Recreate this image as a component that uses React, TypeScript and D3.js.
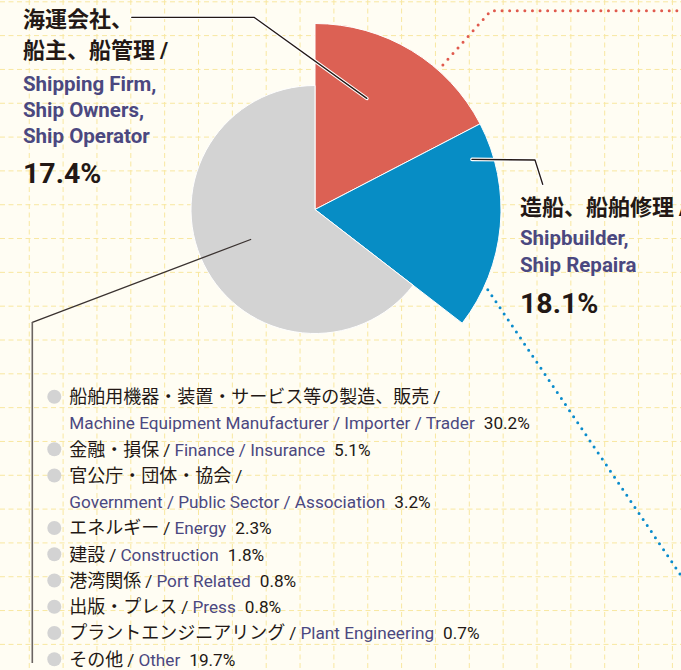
import React, { useEffect, useRef } from 'react';
import * as d3 from 'd3';

// ---- data ----
const mainValues = [17.4, 18.1];
const mainJa = [['海運会社、', '船主、船管理 /'], ['造船、船舶修理 /']];
const mainEn = [['Shipping Firm,', 'Ship Owners,', 'Ship Operator'], ['Shipbuilder,', 'Ship Repaira']];

const otherJa = ['船舶用機器・装置・サービス等の製造、販売', '金融・損保', '官公庁・団体・協会', 'エネルギー', '建設', '港湾関係', '出版・プレス', 'プラントエンジニアリング', 'その他'];
const otherEn = ['Machine Equipment Manufacturer / Importer / Trader', 'Finance / Insurance', 'Government / Public Sector / Association', 'Energy', 'Construction', 'Port Related', 'Press', 'Plant Engineering', 'Other'];
const otherValues = [30.2, 5.1, 3.2, 2.3, 1.8, 0.8, 0.8, 0.7, 19.7];

const W = 681;
const H = 670;
const JA = '"Noto Sans CJK JP", sans-serif';
const EN = 'Roboto, sans-serif';
const INK = '#231815';
const PURPLE = '#4b4880';

export default function App() {
  const ref = useRef<SVGSVGElement>(null);

  useEffect(() => {
    const svg = d3.select(ref.current);
    svg.selectAll('*').remove();

    // ------------ background + grid ------------
    svg.append('rect').attr('width', W).attr('height', H).attr('fill', '#fffdf3');
    const grid = svg.append('g')
      .attr('stroke', '#f8e7a0')
      .attr('stroke-width', 1)
      .attr('stroke-dasharray', '5 3.5');
    grid.append('g').selectAll('line')
      .data(d3.range(-4.6, W, 33.85))
      .join('line')
      .attr('x1', d => d).attr('x2', d => d).attr('y1', 0).attr('y2', H);
    grid.append('g').selectAll('line')
      .data(d3.range(1.8, H, 33.82))
      .join('line')
      .attr('y1', d => d).attr('y2', d => d).attr('x1', 0).attr('x2', W);

    // ------------ pie ------------
    const cx = 315, cy = 209.5;
    const pieData = [...mainValues, d3.sum(otherValues)];
    const colors = ['#dc6154', '#078dc5', '#d3d3d3'];
    const radii = [186, 186, 124];
    const arcs = d3.pie<number>().sort(null)(pieData);
    const arc = d3.arc<d3.PieArcDatum<number>>().innerRadius(0);
    const deg = (a: number) => (a * Math.PI) / 180;
    const at = (a: number, r: number) => {
      const p = d3.pointRadial(deg(a), r);
      return [cx + p[0], cy + p[1]] as [number, number];
    };

    // dotted lines to the detail charts
    const redStart = at(41.5, 193);
    const redTurnR = (cy - 10.7) / Math.cos(deg(41.5));
    const redTurn = at(41.5, redTurnR);
    svg.append('path')
      .attr('d', d3.line()([redStart, redTurn, [W + 5, redTurn[1]]]))
      .attr('fill', 'none')
      .attr('stroke', '#e05a4e')
      .attr('stroke-width', 3)
      .attr('stroke-linecap', 'round')
      .attr('stroke-dasharray', '0 7.6');
    const blueStart = at(114.9, 190.5);
    const slope = 283 / 191.3;
    svg.append('path')
      .attr('d', d3.line()([blueStart, [W + 20, blueStart[1] + (W + 20 - blueStart[0]) * slope]]))
      .attr('fill', 'none')
      .attr('stroke', '#0a8ccc')
      .attr('stroke-width', 3)
      .attr('stroke-linecap', 'round')
      .attr('stroke-dasharray', '0 7.3');

    svg.append('g')
      .attr('transform', `translate(${cx},${cy})`)
      .selectAll('path')
      .data(arcs)
      .join('path')
      .attr('d', (d, i) => arc.outerRadius(radii[i])(d))
      .attr('fill', (d, i) => colors[i])
      .attr('stroke', '#fff')
      .attr('stroke-width', 1);

    // ------------ leader lines ------------
    const leader = (pts: [number, number][], halo: boolean, color = INK) => {
      const d = d3.line()(pts);
      if (halo) {
        svg.append('path').attr('d', d).attr('fill', 'none')
          .attr('stroke', '#fff').attr('stroke-width', 3.6)
          .attr('stroke-linecap', 'round').attr('stroke-linejoin', 'round');
      }
      svg.append('path').attr('d', d).attr('fill', 'none')
        .attr('stroke', color).attr('stroke-width', 1.3)
        .attr('stroke-linecap', 'round').attr('stroke-linejoin', 'round');
    };
    leader([at(25, 122.6), [254, 17.3], [131.7, 17.3]], true);
    leader([at(72.3, 164.8), [535, 160], [542.7, 184.3]], true);
    leader([at(245, 71), [32.3, 322.3]], false, '#3a3230');
    svg.append('line')
      .attr('x1', 32.3).attr('x2', 32.3).attr('y1', 322.3).attr('y2', 663)
      .attr('stroke', '#6b6462').attr('stroke-width', 1.6);

    // ------------ slice labels ------------
    const labelPos = [
      { x: 23, ja: [26.5, 57.5], en: [90.7, 116.7, 142.7], pct: 182.7 },
      { x: 520, ja: [215.3], en: [245, 271.7], pct: 313.3 },
    ];
    mainValues.forEach((v, i) => {
      const p = labelPos[i];
      mainJa[i].forEach((t, j) => {
        const txt = svg.append('text')
          .attr('x', p.x).attr('y', p.ja[j])
          .attr('fill', INK).attr('font-weight', 700).attr('font-size', 22);
        const slash = t.endsWith(' /');
        txt.append('tspan').attr('font-family', JA).text(slash ? t.slice(0, -2) : t);
        if (slash) txt.append('tspan').attr('font-family', EN).attr('dx', 5).text('/');
      });
      mainEn[i].forEach((t, j) => {
        svg.append('text')
          .attr('x', p.x).attr('y', p.en[j])
          .attr('fill', PURPLE).attr('font-family', EN)
          .attr('font-weight', 700).attr('font-size', 20.5)
          .text(t);
      });
      svg.append('text')
        .attr('x', p.x).attr('y', p.pct)
        .attr('fill', INK).attr('font-family', EN)
        .attr('font-weight', 700).attr('font-size', 28.5)
        .text(`${v}%`);
    });

    // ------------ legend ------------
    const rowY = (k: number) => 396.7 + 26.25 * k;
    const legend = svg.append('g');
    let row = 0;
    otherJa.forEach((ja, i) => {
      const wrap = otherEn[i].length > 25;
      legend.append('circle')
        .attr('cx', 54.3).attr('cy', rowY(row)).attr('r', 7)
        .attr('fill', '#d3d3d3');
      const t1 = legend.append('text')
        .attr('x', 69.3).attr('y', rowY(row) + 6.3)
        .attr('font-size', 18).attr('fill', INK);
      t1.append('tspan').attr('font-family', JA).text(ja);
      t1.append('tspan').attr('font-family', EN).attr('font-size', 17.2).attr('dx', 4).text('/');
      let t2 = t1;
      if (wrap) {
        row += 1;
        t2 = legend.append('text')
          .attr('x', 69.3).attr('y', rowY(row) + 6.3)
          .attr('font-size', 17.2).attr('fill', INK);
        t2.append('tspan').attr('font-family', EN).attr('fill', PURPLE).text(otherEn[i]);
      } else {
        t1.append('tspan').attr('font-family', EN).attr('font-size', 17.2)
          .attr('fill', PURPLE).attr('dx', 4).text(otherEn[i]);
      }
      t2.append('tspan').attr('font-family', EN).attr('font-size', 17.2)
        .attr('dx', 9).text(`${otherValues[i]}%`);
      row += 1;
    });
  }, []);

  return (
    <svg
      ref={ref}
      width={W}
      height={H}
      style={{ position: 'absolute', left: 0, top: 0, display: 'block' }}
    />
  );
}
